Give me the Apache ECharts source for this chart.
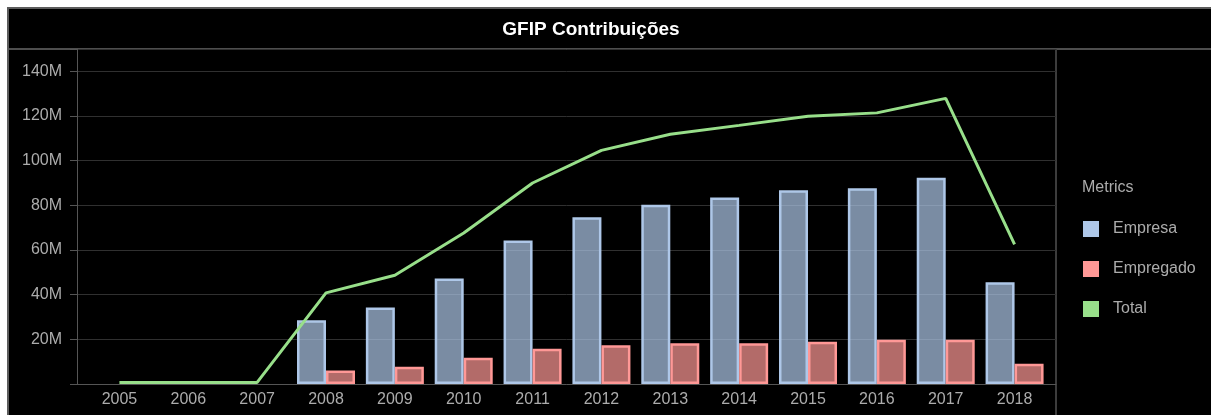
<!DOCTYPE html>
<html>
<head>
<meta charset="utf-8">
<script src="https://cdn.jsdelivr.net/npm/echarts@6/dist/echarts.min.js"></script>
<style>
  html, body { margin: 0; padding: 0; background: #fff; }
  #panel {
    position: absolute; left: 7px; top: 7px; width: 1230px; height: 430px;
    background: #000; border-left: 2px solid #5c5c5c; border-top: 2px solid #5c5c5c;
  }
  #header-line { position: absolute; left: 9px; top: 48px; width: 1210px; height: 2px; background: #4e4e4e; }
  #divider { position: absolute; left: 1055px; top: 49px; width: 2px; height: 380px; background: #3c3c3c; }
  #chart { position: absolute; left: 0; top: 0; width: 1211px; height: 415px; }
</style>
</head>
<body>
<div id="panel"></div>
<div id="header-line"></div>
<div id="divider"></div>
<div id="chart"></div>
<script>
// values in millions
const years = ['2005', '2006', '2007', '2008', '2009', '2010', '2011', '2012', '2013', '2014', '2015', '2016', '2017', '2018']
const empresa = [null, null, null, 28.6, 34.3, 47.2, 64.2, 74.7, 80.3, 83.5, 86.8, 87.7, 92.4, 45.6]
const empregado = [null, null, null, 6.1, 7.7, 11.8, 15.8, 17.4, 18.2, 18.2, 18.9, 19.8, 19.8, 9.1]
const total = [0.7, 0.7, 0.7, 40.8, 48.7, 67.6, 90.0, 104.6, 111.8, 115.8, 119.9, 121.4, 127.9, 62.5]

const font = "'Liberation Sans', Arial, sans-serif"
const labelColor = '#acacac'

const chart = echarts.init(document.getElementById('chart'))

chart.setOption({
  animation: false,
  textStyle: { fontFamily: font },
  graphic: [
    {
      type: 'text', x: 591, y: 30,
      style: { text: 'GFIP Contribuições', fill: '#fff', font: 'bold 19px ' + font, align: 'center', verticalAlign: 'middle' }
    },
    {
      type: 'text', x: 1082, y: 188,
      style: { text: 'Metrics', fill: labelColor, font: '16px ' + font, align: 'left', verticalAlign: 'middle' }
    }
  ],
  grid: [
    // bars and line
    { left: 85, top: 49, width: 964, bottom: 31 },
    // frame with axis lines and split lines
    { left: 77, top: 49, width: 979, bottom: 31 }
  ],
  legend: {
    orient: 'vertical',
    left: 1078,
    top: 216,
    icon: 'rect',
    itemWidth: 16,
    itemHeight: 16,
    itemGap: 24,
    textStyle: { color: labelColor, fontSize: 16, padding: [0, 0, 0, 9] },
    data: [
      { name: 'Empresa', itemStyle: { color: '#aec7e8', borderWidth: 0 } },
      { name: 'Empregado', itemStyle: { color: '#ff9896', borderWidth: 0 } },
      { name: 'Total', itemStyle: { color: '#98df8a', borderWidth: 0 } }
    ]
  },
  xAxis: [
    {
      type: 'category',
      gridIndex: 0,
      data: years,
      axisLine: { show: false },
      axisTick: { show: false },
      axisLabel: { color: labelColor, fontSize: 16, margin: 8 }
    },
    {
      type: 'value',
      gridIndex: 1,
      min: 0,
      max: 1,
      axisLine: { show: true, lineStyle: { color: '#555' } },
      axisTick: { show: false },
      axisLabel: { show: false },
      splitLine: { show: false }
    }
  ],
  yAxis: [
    { type: 'value', gridIndex: 0, min: 0, max: 150, show: false },
    {
      type: 'value',
      gridIndex: 1,
      min: 0,
      max: 150,
      interval: 20,
      axisLine: { show: true, lineStyle: { color: '#555' } },
      axisTick: { show: true, length: 7, lineStyle: { color: '#555' } },
      splitLine: { lineStyle: { color: '#303030' } },
      axisLabel: {
        color: labelColor,
        fontSize: 16,
        margin: 15,
        formatter: (v) => (v === 0 || v > 140 ? '' : v + 'M')
      }
    }
  ],
  series: [
    {
      name: 'Empresa',
      type: 'bar',
      xAxisIndex: 0,
      yAxisIndex: 0,
      data: empresa,
      barWidth: 29,
      barGap: '0%',
      itemStyle: { color: 'rgba(174,199,232,0.7)', borderColor: '#aec7e8', borderWidth: 2.5 }
    },
    {
      name: 'Empregado',
      type: 'bar',
      xAxisIndex: 0,
      yAxisIndex: 0,
      data: empregado,
      barWidth: 29,
      barGap: '0%',
      itemStyle: { color: 'rgba(255,152,150,0.7)', borderColor: '#ff9896', borderWidth: 2.5 }
    },
    {
      name: 'Total',
      type: 'line',
      xAxisIndex: 0,
      yAxisIndex: 0,
      data: total,
      showSymbol: false,
      z: 5,
      itemStyle: { color: '#98df8a' },
      lineStyle: { color: '#98df8a', width: 3 }
    }
  ]
})
</script>
</body>
</html>
